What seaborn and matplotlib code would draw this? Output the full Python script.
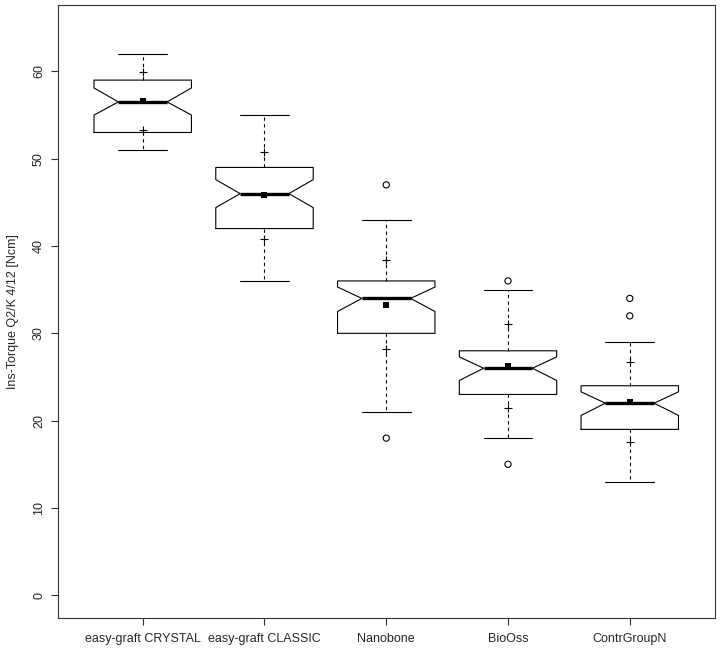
import numpy as np
import pandas as pd
import matplotlib
matplotlib.use("Agg")
import matplotlib.pyplot as plt
import seaborn as sns

# group summaries (notched R boxplot)
groups = ["easy-graft CRYSTAL", "easy-graft CLASSIC", "Nanobone", "BioOss", "ContrGroupN"]
whis_lo = [51, 36, 21, 18, 13]
q1 = [53, 42, 30, 23, 19]
medians = [56.5, 46, 34, 26, 22]
q3 = [59, 49, 36, 28, 24]
whis_hi = [62, 55, 43, 35, 29]
notch_lo = [55.0, 44.4, 32.5, 24.6, 20.6]
notch_hi = [58.1, 47.6, 35.3, 27.3, 23.3]
means = [56.6, 45.8, 33.3, 26.25, 22.1]
sd = [3.35, 5.0, 5.15, 4.8, 4.6]
outliers = [[], [], [47, 18], [36, 15], [34, 32]]

y_ticks = [0, 10, 20, 30, 40, 50, 60]
y_label = "Ins-Torque Q2/K 4/12 [Ncm]"

sns.set_style("white")
plt.rcParams["font.family"] = ["Liberation Sans", "DejaVu Sans"]

fig = plt.figure(figsize=(7.21, 6.53), dpi=100)
ax = fig.add_axes([57.5 / 721, 1 - 618 / 653, (715 - 57.5) / 721, (618 - 5) / 653])

stats = []
for i, g in enumerate(groups):
    stats.append({
        "label": g, "med": medians[i], "q1": q1[i], "q3": q3[i],
        "whislo": whis_lo[i], "whishi": whis_hi[i],
        "cilo": notch_lo[i], "cihi": notch_hi[i], "fliers": [],
    })

pos = np.arange(1, len(groups) + 1)
ax.bxp(stats, positions=pos, widths=0.8, shownotches=True, showfliers=False,
       boxprops=dict(color="black", linewidth=0.8),
       whiskerprops=dict(color="black", linewidth=0.8, linestyle=(0, (3, 3))),
       capprops=dict(color="black", linewidth=0.8),
       medianprops=dict(color="black", linewidth=2.4, solid_capstyle="butt"))

# means, mean +/- sd and outliers
df_mean = pd.DataFrame({"x": pos, "y": means})
df_sd = pd.DataFrame({
    "x": np.concatenate([pos, pos]),
    "y": np.concatenate([np.array(means) + np.array(sd), np.array(means) - np.array(sd)]),
})
out_x, out_y = [], []
for i, vals in enumerate(outliers):
    for v in vals:
        out_x.append(pos[i])
        out_y.append(v)
df_out = pd.DataFrame({"x": out_x, "y": out_y})

sns.scatterplot(data=df_mean, x="x", y="y", ax=ax, marker="s", s=14, color="black",
                edgecolor="black", linewidth=0, zorder=5)
sns.scatterplot(data=df_sd, x="x", y="y", ax=ax, marker="+", s=36, color="black",
                linewidth=0.8, zorder=5)
sns.scatterplot(data=df_out, x="x", y="y", ax=ax, marker="o", s=20, facecolor="none",
                edgecolor="black", linewidth=0.8, zorder=5)

ax.set_xlim(0.3, 5.7)
ax.set_ylim(-2.6, 67.6)
ax.set_xticks(pos)
ax.set_xticklabels(groups, fontsize=9)
ax.set_yticks(y_ticks)
ax.set_yticklabels([str(t) for t in y_ticks], fontsize=9, rotation=90, va="center")
ax.set_xlabel("")
ax.set_ylabel(y_label, fontsize=9, labelpad=10)
ax.tick_params(direction="out", length=5, width=0.8, color="#333333", pad=4,
               bottom=True, left=True)
ax.tick_params(axis="x", pad=6)
for s in ax.spines.values():
    s.set_visible(True)
    s.set_color("#333333")
    s.set_linewidth(0.8)

fig.savefig("out.png", dpi=100)
